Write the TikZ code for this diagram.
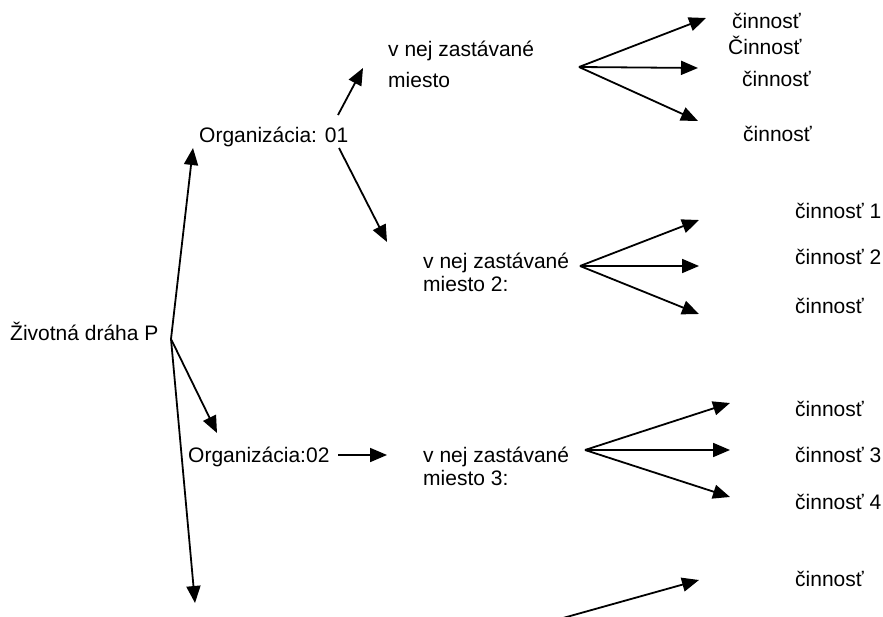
\documentclass[tikz,border=0pt]{standalone}
\usepackage{fontspec}
\setmainfont{Liberation Sans}
\usetikzlibrary{arrows.meta}
\begin{document}
\begin{tikzpicture}[x=1pt,y=-1pt,
  lbl/.style={anchor=base west,inner sep=0pt,font=\fontsize{21}{25}\selectfont},
  arr/.style={line width=1.8pt,-{Triangle[length=17pt,width=14pt]}}]
\useasboundingbox (0,0) rectangle (883,617);
% texts
\node[lbl] (zp) at (10,341) {Životná dráha P};
\node[lbl] (o1) at (199,143) {Organizácia: 01};
\node[lbl] (o2) at (188,462) {Organizácia:02};
\node[lbl] (m1a) at (388,57) {v nej zastávané};
\node[lbl] (m1b) at (388,88) {miesto};
\node[lbl] (m2a) at (423,269) {v nej zastávané};
\node[lbl] (m2b) at (423,292) {miesto 2:};
\node[lbl] (m3a) at (423,462) {v nej zastávané};
\node[lbl] (m3b) at (423,485) {miesto 3:};
\node[lbl] (c11) at (732,29) {činnosť};
\node[lbl] (c12) at (728,55) {Činnosť};
\node[lbl] (c13) at (742,87) {činnosť};
\node[lbl] (c14) at (743,142) {činnosť};
\node[lbl] (c21) at (795,219) {činnosť 1};
\node[lbl] (c22) at (795,265) {činnosť 2};
\node[lbl] (c23) at (795,314) {činnosť};
\node[lbl] (c31) at (795,416) {činnosť};
\node[lbl] (c32) at (795,462) {činnosť 3};
\node[lbl] (c33) at (795,509) {činnosť 4};
\node[lbl] (c41) at (795,586) {činnosť};
% connector end points
\coordinate (rootP) at (171,339);
\coordinate (to1) at (193,148);
\coordinate (to2) at (217,433);
\coordinate (tdown) at (195,603);
\coordinate (o1up) at (338,115);
\coordinate (tm1) at (363,68);
\coordinate (o1dn) at (339,148);
\coordinate (tm2) at (387,242);
\coordinate (o2r) at (338,455);
\coordinate (tm3) at (387,455);
\coordinate (f1) at (579,67);
\coordinate (f1a) at (706,18);
\coordinate (f1b) at (698,68);
\coordinate (f1c) at (698,121);
\coordinate (f2) at (580,266);
\coordinate (f2a) at (699,220);
\coordinate (f2b) at (699,266);
\coordinate (f2c) at (699,314);
\coordinate (f3) at (585,450);
\coordinate (f3a) at (730,403);
\coordinate (f3b) at (730,450);
\coordinate (f3c) at (730,497);
\coordinate (f4) at (563,618);
\coordinate (f4a) at (699,580);
% connectors
\draw[arr] (rootP) -- (to1);
\draw[arr] (rootP) -- (to2);
\draw[arr] (rootP) -- (tdown);
\draw[arr] (o1up) -- (tm1);
\draw[arr] (o1dn) -- (tm2);
\draw[arr] (o2r) -- (tm3);
\draw[arr] (f1) -- (f1a);
\draw[arr] (f1) -- (f1b);
\draw[arr] (f1) -- (f1c);
\draw[arr] (f2) -- (f2a);
\draw[arr] (f2) -- (f2b);
\draw[arr] (f2) -- (f2c);
\draw[arr] (f3) -- (f3a);
\draw[arr] (f3) -- (f3b);
\draw[arr] (f3) -- (f3c);
\draw[arr] (f4) -- (f4a);
\end{tikzpicture}
\end{document}
